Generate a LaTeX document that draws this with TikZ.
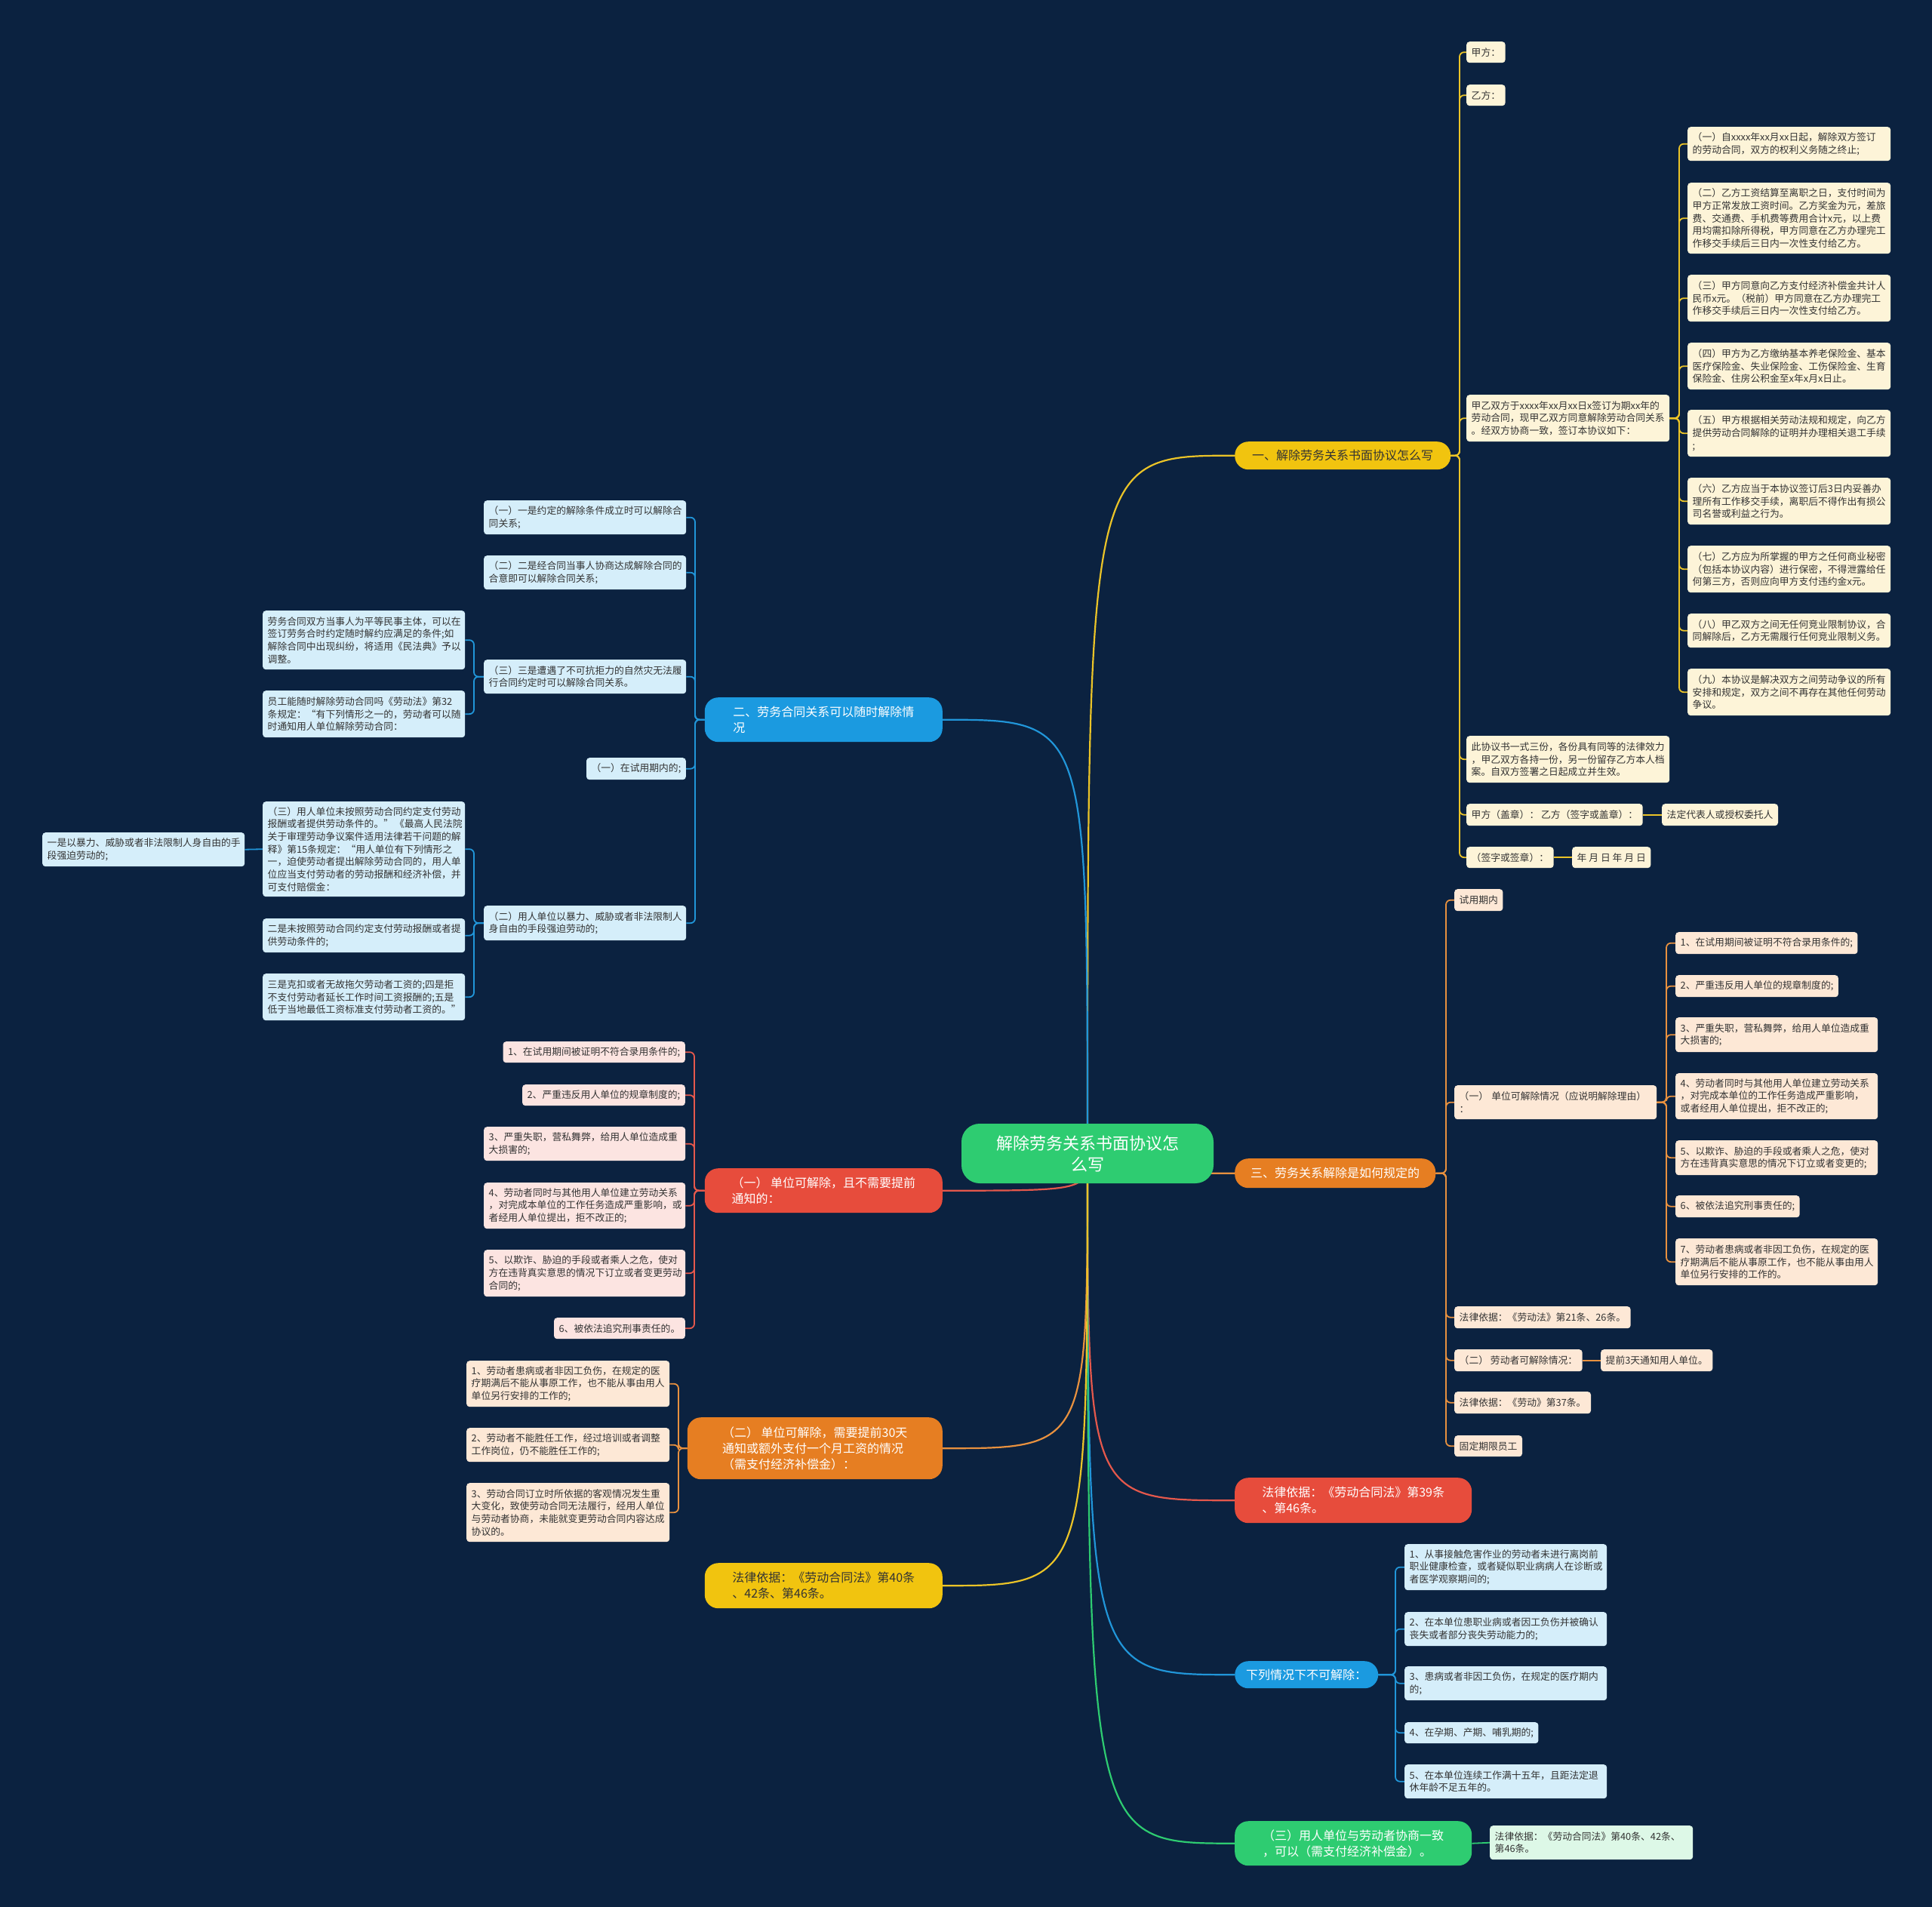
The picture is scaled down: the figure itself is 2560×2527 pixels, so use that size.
\documentclass[tikz,border=0pt]{standalone}
\usepackage{fontspec}
\setmainfont{Noto Sans CJK SC}
\usetikzlibrary{calc}
\definecolor{bgc}{HTML}{0B2240}
\definecolor{txt}{HTML}{333333}
\definecolor{yfill}{HTML}{FDF4D8}
\definecolor{ofill}{HTML}{FDE8D6}
\definecolor{bfill}{HTML}{D5EEFA}
\definecolor{rfill}{HTML}{FCE4E1}
\definecolor{gfill}{HTML}{DDF8E7}
\definecolor{ycol}{HTML}{EBC428}
\definecolor{ocol}{HTML}{E8913F}
\definecolor{bcol}{HTML}{2196D9}
\definecolor{rcol}{HTML}{E5584C}
\definecolor{gcol}{HTML}{2ECC71}
\definecolor{yl1}{HTML}{F1C40F}
\definecolor{ol1}{HTML}{E67E22}
\definecolor{rl1}{HTML}{E74C3C}
\definecolor{bl1}{HTML}{1B9AE0}
\definecolor{gl1}{HTML}{2ECC71}
\pgfdeclarelayer{bgl}
\pgfdeclarelayer{edges}
\pgfsetlayers{bgl,edges,main}
\tikzset{
  box/.style={rectangle, rounded corners=4pt, anchor=north west, inner xsep=6.5pt, inner ysep=0pt,
    align=left, font=\fontsize{12.8}{16.7}\selectfont, text=txt, minimum height=29pt},
  ybox/.style={box, fill=yfill},
  obox/.style={box, fill=ofill},
  bbox/.style={box, fill=bfill},
  rbox/.style={box, fill=rfill},
  gbox/.style={box, fill=gfill},
  lvone/.style={rectangle, rounded corners=18pt, inner xsep=8pt, inner ysep=0pt, align=left,
    font=\fontsize{16}{21}\selectfont, text=white},
  root/.style={rectangle, rounded corners=24pt, fill=gl1, minimum width=334pt, minimum height=79pt,
    inner sep=0pt, align=center, font=\fontsize{22}{28}\selectfont, text=white},
  ed/.style={line width=1.8pt, rounded corners=6pt},
  med/.style={line width=2.2pt},
}
\begin{document}
\begin{tikzpicture}[x=1pt,y=-1pt]
\begin{pgfonlayer}{bgl}
\fill[bgc] (0,0) rectangle (2560,2527);
\end{pgfonlayer}
\useasboundingbox (0,0) rectangle (2560,2527);

% root
\node[root] (c) at (1441,1528.5) {解除劳务关系书面协议怎\\么写};

% level one right
\node[lvone, anchor=north west, fill=yl1, text=txt, minimum width=286pt, minimum height=37pt] (Y1) at (1636,585) {一、解除劳务关系书面协议怎么写};
\node[lvone, anchor=north west, fill=ol1, minimum width=266pt, minimum height=39pt] (O1) at (1636,1535) {三、劳务关系解除是如何规定的};
\node[lvone, anchor=north west, fill=rl1, minimum width=314pt, minimum height=60pt] (R1) at (1636,1958) {法律依据：《劳动合同法》第39条\\、第46条。};
\node[lvone, anchor=north west, fill=bl1, minimum width=190pt, minimum height=36pt] (B1) at (1636,2201) {下列情况下不可解除：};
\node[lvone, anchor=north west, fill=gl1, minimum width=314pt, minimum height=59pt] (G1) at (1636,2413) {（三）用人单位与劳动者协商一致\\，可以（需支付经济补偿金）。};
% level one left
\node[lvone, anchor=north east, fill=bl1, minimum width=315pt, minimum height=59pt] (B2) at (1249,924) {二、劳务合同关系可以随时解除情\\况};
\node[lvone, anchor=north east, fill=rl1, minimum width=315pt, minimum height=59pt] (R2) at (1249,1548) {（一） 单位可解除，且不需要提前\\通知的：};
\node[lvone, anchor=north east, fill=ol1, minimum width=338pt, minimum height=82pt] (O2) at (1249,1878) {（二） 单位可解除，需要提前30天\\通知或额外支付一个月工资的情况\\（需支付经济补偿金）：};
\node[lvone, anchor=north east, fill=yl1, text=txt, minimum width=315pt, minimum height=60pt] (Y2) at (1249,2071) {法律依据：《劳动合同法》第40条\\、42条、第46条。};

% yellow branch
\node[ybox, minimum height=28pt] (yA) at (1943,55) {甲方：};
\node[ybox, minimum height=28pt] (yB) at (1943,112) {乙方：};
\node[ybox, text width=256pt, minimum height=62pt] (yC) at (1943,523) {甲乙双方于xxxx年xx月xx日x签订为期xx年的\\劳动合同，现甲乙双方同意解除劳动合同关系\\。经双方协商一致，签订本协议如下：};
\node[ybox, text width=256pt, minimum height=62pt] (yD) at (1943,975) {此协议书一式三份，各份具有同等的法律效力\\，甲乙双方各持一份，另一份留存乙方本人档\\案。自双方签署之日起成立并生效。};
\node[ybox] (yE) at (1943,1065) {甲方（盖章）： 乙方（签字或盖章）：};
\node[ybox] (yF) at (2202,1065) {法定代表人或授权委托人};
\node[ybox, minimum height=28pt] (yG) at (1943,1122) {（签字或签章）：};
\node[ybox, minimum height=28pt] (yH) at (2083,1122) {年 月 日 年 月 日};
\node[ybox, text width=256pt, minimum height=45pt] (y1) at (2236,168) {（一）自xxxx年xx月xx日起，解除双方签订\\的劳动合同，双方的权利义务随之终止;};
\node[ybox, text width=256pt, minimum height=94pt] (y2) at (2236,242) {（二）乙方工资结算至离职之日，支付时间为\\甲方正常发放工资时间。乙方奖金为元，差旅\\费、交通费、手机费等费用合计x元，以上费\\用均需扣除所得税，甲方同意在乙方办理完工\\作移交手续后三日内一次性支付给乙方。};
\node[ybox, text width=256pt, minimum height=62pt] (y3) at (2236,364) {（三）甲方同意向乙方支付经济补偿金共计人\\民币x元。（税前）甲方同意在乙方办理完工\\作移交手续后三日内一次性支付给乙方。};
\node[ybox, text width=256pt, minimum height=62pt] (y4) at (2236,454) {（四）甲方为乙方缴纳基本养老保险金、基本\\医疗保险金、失业保险金、工伤保险金、生育\\保险金、住房公积金至x年x月x日止。};
\node[ybox, text width=256pt, minimum height=62pt] (y5) at (2236,543) {（五）甲方根据相关劳动法规和规定，向乙方\\提供劳动合同解除的证明并办理相关退工手续\\;};
\node[ybox, text width=256pt, minimum height=62pt] (y6) at (2236,633) {（六）乙方应当于本协议签订后3日内妥善办\\理所有工作移交手续，离职后不得作出有损公\\司名誉或利益之行为。};
\node[ybox, text width=256pt, minimum height=62pt] (y7) at (2236,723) {（七）乙方应为所掌握的甲方之任何商业秘密\\（包括本协议内容）进行保密，不得泄露给任\\何第三方，否则应向甲方支付违约金x元。};
\node[ybox, text width=256pt, minimum height=45pt] (y8) at (2236,813) {（八）甲乙双方之间无任何竞业限制协议，合\\同解除后，乙方无需履行任何竞业限制义务。};
\node[ybox, text width=256pt, minimum height=62pt] (y9) at (2236,886) {（九）本协议是解决双方之间劳动争议的所有\\安排和规定，双方之间不再存在其他任何劳动\\争议。};

% orange right branch
\node[obox] (oA) at (1927,1178) {试用期内};
\node[obox, text width=255pt, minimum height=45pt] (oB) at (1927,1438) {（一） 单位可解除情况（应说明解除理由）\\：};
\node[obox] (oC) at (1927,1731) {法律依据：《劳动法》第21条、26条。};
\node[obox] (oD) at (1927,1788) {（二） 劳动者可解除情况：};
\node[obox] (oE) at (2121,1788) {提前3天通知用人单位。};
\node[obox] (oF) at (1927,1844) {法律依据：《劳动》第37条。};
\node[obox, minimum height=28pt] (oG) at (1927,1902) {固定期限员工};
\node[obox] (o1) at (2220,1235) {1、在试用期间被证明不符合录用条件的;};
\node[obox] (o2) at (2220,1292) {2、严重违反用人单位的规章制度的;};
\node[obox, text width=255pt, minimum height=46pt] (o3) at (2220,1348) {3、严重失职，营私舞弊，给用人单位造成重\\大损害的;};
\node[obox, text width=255pt, minimum height=61pt] (o4) at (2220,1422) {4、劳动者同时与其他用人单位建立劳动关系\\，对完成本单位的工作任务造成严重影响，\\或者经用人单位提出，拒不改正的;};
\node[obox, text width=255pt, minimum height=46pt] (o5) at (2220,1511) {5、以欺诈、胁迫的手段或者乘人之危，使对\\方在违背真实意思的情况下订立或者变更的;};
\node[obox] (o6) at (2220,1584) {6、被依法追究刑事责任的;};
\node[obox, text width=255pt, minimum height=62pt] (o7) at (2220,1641) {7、劳动者患病或者非因工负伤，在规定的医\\疗期满后不能从事原工作，也不能从事由用人\\单位另行安排的工作的。};

% blue right branch
\node[bbox, text width=255pt, minimum height=61pt] (b1) at (1861,2046) {1、从事接触危害作业的劳动者未进行离岗前\\职业健康检查，或者疑似职业病病人在诊断或\\者医学观察期间的;};
\node[bbox, text width=255pt, minimum height=45pt] (b2) at (1861,2136) {2、在本单位患职业病或者因工负伤并被确认\\丧失或者部分丧失劳动能力的;};
\node[bbox, text width=255pt, minimum height=45pt] (b3) at (1861,2208) {3、患病或者非因工负伤，在规定的医疗期内\\的;};
\node[bbox, minimum height=28pt] (b4) at (1861,2282) {4、在孕期、产期、哺乳期的;};
\node[bbox, text width=255pt, minimum height=45pt] (b5) at (1861,2338) {5、在本单位连续工作满十五年，且距法定退\\休年龄不足五年的。};
% green
\node[gbox, text width=256pt, minimum height=45pt] (g1) at (1974,2419) {法律依据：《劳动合同法》第40条、42条、\\第46条。};

% blue left branch
\node[bbox, text width=255pt, minimum height=45pt] (L1) at (641,663) {（一）一是约定的解除条件成立时可以解除合\\同关系;};
\node[bbox, text width=255pt, minimum height=45pt] (L2) at (641,736) {（二）二是经合同当事人协商达成解除合同的\\合意即可以解除合同关系;};
\node[bbox, text width=255pt, minimum height=45pt] (L3) at (641,874) {（三）三是遭遇了不可抗拒力的自然灾无法履\\行合同约定时可以解除合同关系。};
\node[bbox, anchor=north east] (L4) at (909,1004) {（一）在试用期内的;};
\node[bbox, text width=255pt, minimum height=46pt] (L5) at (641,1200) {（二）用人单位以暴力、威胁或者非法限制人\\身自由的手段强迫劳动的;};
\node[bbox, text width=255pt, minimum height=78pt] (L31) at (348,809) {劳务合同双方当事人为平等民事主体，可以在\\签订劳务合时约定随时解约应满足的条件;如\\解除合同中出现纠纷，将适用《民法典》予以\\调整。};
\node[bbox, text width=255pt, minimum height=62pt] (L32) at (348,915) {员工能随时解除劳动合同吗《劳动法》第32\\条规定：“有下列情形之一的，劳动者可以随\\时通知用人单位解除劳动合同：};
\node[bbox, text width=255pt, minimum height=126pt] (L51) at (348,1062) {（三）用人单位未按照劳动合同约定支付劳动\\报酬或者提供劳动条件的。”\hbox{}\kern2pt《最高人民法院\\关于审理劳动争议案件适用法律若干问题的解\\释》第15条规定：“用人单位有下列情形之\\一，迫使劳动者提出解除劳动合同的，用人单\\位应当支付劳动者的劳动报酬和经济补偿，并\\可支付赔偿金：};
\node[bbox, text width=255pt, minimum height=45pt] (L52) at (348,1217) {二是未按照劳动合同约定支付劳动报酬或者提\\供劳动条件的;};
\node[bbox, text width=255pt, minimum height=62pt] (L53) at (348,1290) {三是克扣或者无故拖欠劳动者工资的;四是拒\\不支付劳动者延长工作时间工资报酬的;五是\\低于当地最低工资标准支付劳动者工资的。”};
\node[bbox, text width=255pt, minimum height=45pt] (L511) at (56,1103) {一是以暴力、威胁或者非法限制人身自由的手\\段强迫劳动的;};

% red left branch
\node[rbox, anchor=north east, minimum height=28pt] (r1) at (908,1380) {1、在试用期间被证明不符合录用条件的;};
\node[rbox, anchor=north east, minimum height=28pt] (r2) at (908,1437) {2、严重违反用人单位的规章制度的;};
\node[rbox, text width=254pt, minimum height=45pt] (r3) at (641,1493) {3、严重失职，营私舞弊，给用人单位造成重\\大损害的;};
\node[rbox, text width=254pt, minimum height=61pt] (r4) at (641,1567) {4、劳动者同时与其他用人单位建立劳动关系\\，对完成本单位的工作任务造成严重影响，或\\者经用人单位提出，拒不改正的;};
\node[rbox, text width=254pt, minimum height=62pt] (r5) at (641,1656) {5、以欺诈、胁迫的手段或者乘人之危，使对\\方在违背真实意思的情况下订立或者变更劳动\\合同的;};
\node[rbox, anchor=north east, minimum height=28pt] (r6) at (908,1746) {6、被依法追究刑事责任的。};

% orange left branch
\node[obox, text width=256pt, minimum height=61pt] (q1) at (618,1803) {1、劳动者患病或者非因工负伤，在规定的医\\疗期满后不能从事原工作，也不能从事由用人\\单位另行安排的工作的;};
\node[obox, text width=256pt, minimum height=45pt] (q2) at (618,1892) {2、劳动者不能胜任工作，经过培训或者调整\\工作岗位，仍不能胜任工作的;};
\node[obox, text width=256pt, minimum height=78pt] (q3) at (618,1965) {3、劳动合同订立时所依据的客观情况发生重\\大变化，致使劳动合同无法履行，经用人单位\\与劳动者协商，未能就变更劳动合同内容达成\\协议的。};

% spine coordinates
\coordinate (sY) at (1934,0);
\coordinate (sYC) at (2225,0);
\coordinate (sO) at (1916,0);
\coordinate (sOB) at (2208,0);
\coordinate (sB) at (1849,0);
\coordinate (sB2) at (921,0);
\coordinate (sL) at (628,0);
\coordinate (sR2) at (920,0);
\coordinate (sO2) at (899,0);

\begin{pgfonlayer}{edges}
% root to level one
\foreach \t/\cl in {Y1/ycol,O1/ocol,R1/rcol,B1/bcol,G1/gcol}
  \draw[med,\cl] (c.center) .. controls (c.center |- \t.west) and (c.center |- \t.west) .. (\t.west);
\foreach \t/\cl in {B2/bcol,R2/rcol,O2/ocol,Y2/ycol}
  \draw[med,\cl] (c.center) .. controls (c.center |- \t.east) and (c.center |- \t.east) .. (\t.east);
% right side children
\foreach \ch in {yA,yB,yC,yD,yE,yG}
  \draw[ed,ycol] (Y1.east) -- (sY |- Y1.east) -- (sY |- \ch.west) -- (\ch.west);
\foreach \ch in {y1,y2,y3,y4,y5,y6,y7,y8,y9}
  \draw[ed,ycol] (yC.east) -- (sYC |- yC.east) -- (sYC |- \ch.west) -- (\ch.west);
\draw[ed,ycol] (yE.east) -- (yF.west);
\draw[ed,ycol] (yG.east) -- (yH.west);
\foreach \ch in {oA,oB,oC,oD,oF,oG}
  \draw[ed,ocol] (O1.east) -- (sO |- O1.east) -- (sO |- \ch.west) -- (\ch.west);
\foreach \ch in {o1,o2,o3,o4,o5,o6,o7}
  \draw[ed,ocol] (oB.east) -- (sOB |- oB.east) -- (sOB |- \ch.west) -- (\ch.west);
\draw[ed,ocol] (oD.east) -- (oE.west);
\foreach \ch in {b1,b2,b3,b4,b5}
  \draw[ed,bcol] (B1.east) -- (sB |- B1.east) -- (sB |- \ch.west) -- (\ch.west);
\draw[ed,gcol] (G1.east) -- (g1.west);
% left side children
\foreach \ch in {L1,L2,L3,L4,L5}
  \draw[ed,bcol] (B2.west) -- (sB2 |- B2.west) -- (sB2 |- \ch.east) -- (\ch.east);
\foreach \ch in {L31,L32}
  \draw[ed,bcol] (L3.west) -- (sL |- L3.west) -- (sL |- \ch.east) -- (\ch.east);
\foreach \ch in {L51,L52,L53}
  \draw[ed,bcol] (L5.west) -- (sL |- L5.west) -- (sL |- \ch.east) -- (\ch.east);
\draw[ed,bcol] (L51.west) -- (L511.east);
\foreach \ch in {r1,r2,r3,r4,r5,r6}
  \draw[ed,rcol] (R2.west) -- (sR2 |- R2.west) -- (sR2 |- \ch.east) -- (\ch.east);
\foreach \ch in {q1,q2,q3}
  \draw[ed,ocol] (O2.west) -- (sO2 |- O2.west) -- (sO2 |- \ch.east) -- (\ch.east);
\end{pgfonlayer}
\end{tikzpicture}
\end{document}
